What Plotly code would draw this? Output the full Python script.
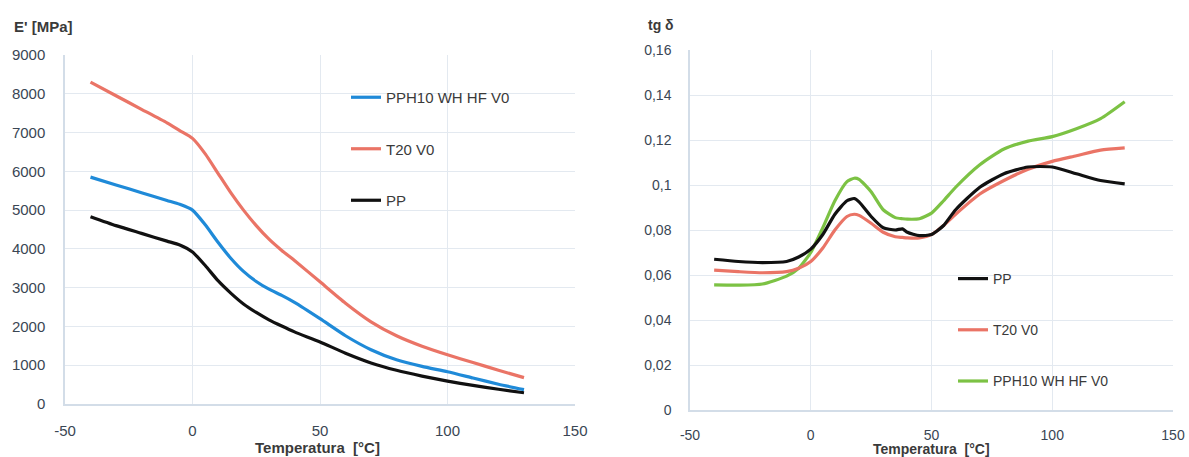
import plotly.graph_objects as go

# ---- Left chart: storage modulus E' ----
temp_e = [-40, -30, -20, -10, -5, 0, 5, 10, 15, 20, 25, 30, 35, 40, 50, 60, 70, 80, 90, 100, 110, 120, 130]
e_pph10 = [5850, 5650, 5450, 5250, 5150, 5000, 4620, 4170, 3760, 3420, 3160, 2960, 2800, 2620, 2200, 1760, 1400, 1140, 970, 830, 670, 510, 370]
e_t20 = [8300, 7950, 7600, 7250, 7050, 6850, 6450, 5950, 5450, 5000, 4600, 4250, 3960, 3700, 3150, 2600, 2120, 1760, 1490, 1270, 1070, 870, 680]
e_pp = [4830, 4600, 4400, 4200, 4100, 3920, 3570, 3180, 2860, 2580, 2360, 2170, 2010, 1860, 1600, 1310, 1060, 870, 720, 590, 480, 380, 290]

# ---- Right chart: tg delta ----
temp_d = [-40, -30, -20, -10, -5, 0, 5, 10, 15, 18, 20, 25, 30, 35, 38, 40, 45, 50, 55, 60, 70, 80, 90, 100, 110, 120, 130]
d_pp = [0.067, 0.066, 0.0655, 0.066, 0.068, 0.0715, 0.078, 0.087, 0.093, 0.094, 0.0925, 0.086, 0.081, 0.080, 0.0805, 0.079, 0.0775, 0.078, 0.082, 0.089, 0.099, 0.105, 0.108, 0.108, 0.105, 0.102, 0.1005]
d_t20 = [0.0622, 0.0615, 0.061, 0.0615, 0.063, 0.066, 0.072, 0.080, 0.086, 0.087, 0.0865, 0.083, 0.079, 0.077, 0.0767, 0.0765, 0.0765, 0.078, 0.082, 0.087, 0.096, 0.102, 0.107, 0.1105, 0.113, 0.1155, 0.1165]
d_pph10 = [0.0556, 0.0555, 0.056, 0.0595, 0.063, 0.070, 0.081, 0.093, 0.1015, 0.103, 0.1025, 0.097, 0.089, 0.0855, 0.085, 0.0848, 0.085, 0.0875, 0.093, 0.099, 0.109, 0.116, 0.1195, 0.1215, 0.125, 0.1295, 0.137]

x_ticks = [-50, 0, 50, 100, 150]
x_tick_text = ["-50", "0", "50", "100", "150"]
e_ticks = [0, 1000, 2000, 3000, 4000, 5000, 6000, 7000, 8000, 9000]
d_ticks = [0, 0.02, 0.04, 0.06, 0.08, 0.1, 0.12, 0.14, 0.16]
d_tick_text = ["0", "0,02", "0,04", "0,06", "0,08", "0,1", "0,12", "0,14", "0,16"]

BLUE = "#1f8ad8"
RED = "#ea7466"
BLACK = "#111111"
GREEN = "#7cc244"

FONT = "Liberation Sans"
TICKCOL = "#3a4654"
TXT = "#3a3a3a"
GRID = "#e3e9f0"
AXL = "#d3dde8"

fig = go.Figure()

def add(x, y, name, color, xa, ya, legend, rank):
    fig.add_trace(go.Scatter(
        x=x, y=y, name=name, mode="lines",
        line=dict(color=color, width=3.2, shape="spline", smoothing=0.6),
        xaxis=xa, yaxis=ya, legend=legend, legendgroup=name + legend,
        legendrank=rank,
    ))

add(temp_e, e_pp, "PP", BLACK, "x", "y", "legend", 3)
add(temp_e, e_pph10, "PPH10 WH HF V0", BLUE, "x", "y", "legend", 1)
add(temp_e, e_t20, "T20 V0", RED, "x", "y", "legend", 2)

add(temp_d, d_pph10, "PPH10 WH HF V0", GREEN, "x2", "y2", "legend2", 3)
add(temp_d, d_t20, "T20 V0", RED, "x2", "y2", "legend2", 2)
add(temp_d, d_pp, "PP", BLACK, "x2", "y2", "legend2", 1)

W, H = 1189, 457

def px(xp):
    return xp / W

def py(yp):
    return (H - yp) / H

axis_common = dict(
    showgrid=True, gridcolor=GRID, gridwidth=1,
    showline=True, linecolor=AXL, linewidth=1.5,
    zeroline=False, ticks="", automargin=False,
    fixedrange=True,
)

def tf(size):
    return dict(family=FONT, size=size, color=TICKCOL)

legend_common = dict(
    bgcolor="rgba(0,0,0,0)", traceorder="grouped",
    itemwidth=30, xanchor="left", yanchor="top",
)

fig.update_layout(
    width=W, height=H,
    margin=dict(l=0, r=0, t=0, b=0),
    paper_bgcolor="white", plot_bgcolor="white",
    showlegend=True,
    xaxis=dict(domain=[px(65), px(575)], range=[-50, 150], tickvals=x_ticks,
               ticktext=x_tick_text, anchor="y", ticklabelstandoff=12,
               tickfont=tf(15), **axis_common),
    yaxis=dict(domain=[py(404), py(55)], range=[0, 9000], tickvals=e_ticks,
               anchor="x", ticklabelstandoff=15, tickfont=tf(15), **axis_common),
    xaxis2=dict(domain=[px(690), px(1173)], range=[-50, 150], tickvals=x_ticks,
                ticktext=x_tick_text, anchor="y2", ticklabelstandoff=11,
                tickfont=tf(14), **axis_common),
    yaxis2=dict(domain=[py(410), py(50)], range=[0, 0.16], tickvals=d_ticks,
                ticktext=d_tick_text, anchor="x2", ticklabelstandoff=14,
                tickfont=tf(14), **axis_common),
    legend=dict(x=px(346), y=py(81), tracegroupgap=29,
                font=dict(family=FONT, size=15, color=TXT), **legend_common),
    legend2=dict(x=px(953), y=py(263), tracegroupgap=30,
                 font=dict(family=FONT, size=14, color=TXT), **legend_common),
    annotations=[
        dict(text="<b>E' [MPa]</b>", x=px(12), y=py(26), xref="paper", yref="paper",
             xanchor="left", yanchor="middle", showarrow=False,
             font=dict(family=FONT, size=15, color=TXT)),
        dict(text="<b>tg δ</b>", x=px(646), y=py(25), xref="paper", yref="paper",
             xanchor="left", yanchor="middle", showarrow=False,
             font=dict(family=FONT, size=14, color=TXT)),
        dict(text="<b>Temperatura  [°C]</b>", x=px(318), y=py(447), xref="paper", yref="paper",
             xanchor="center", yanchor="middle", showarrow=False,
             font=dict(family=FONT, size=15, color=TXT)),
        dict(text="<b>Temperatura  [°C]</b>", x=px(931), y=py(449), xref="paper", yref="paper",
             xanchor="center", yanchor="middle", showarrow=False,
             font=dict(family=FONT, size=14, color=TXT)),
    ],
)

fig.write_html(
    "out.html",
    config={"displayModeBar": False},
    post_script="document.body.style.margin='0';document.body.style.padding='0';"
                "document.body.style.overflow='hidden';",
)
